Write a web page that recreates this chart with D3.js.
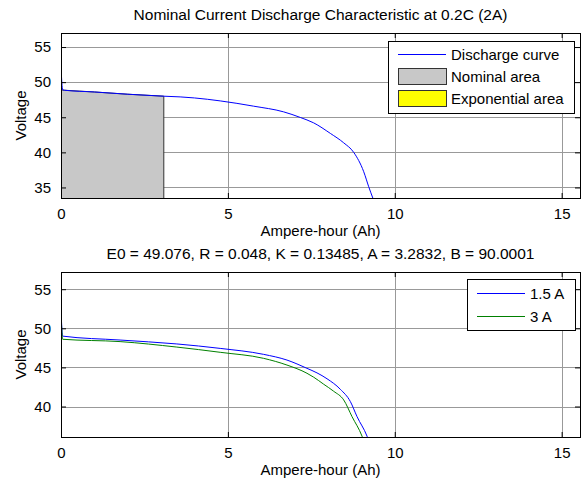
<!DOCTYPE html>
<html>
<head>
<meta charset="utf-8">
<script src="https://cdn.jsdelivr.net/npm/d3@7"></script>
<style>
  body { margin: 0; background: #fff; }
  svg { display: block; font-family: "Liberation Sans", Arial, sans-serif; }
</style>
</head>
<body>
<div id="chart"></div>
<script>
// values
var xTicks = [0, 5, 10, 15];
var topYTicks = [35, 40, 45, 50, 55];
var bottomYTicks = [40, 45, 50, 55];

// top panel: discharge curve at 0.2C (2A)
var dischargeAh = [0, 0.05, 0.1, 1, 2, 3.08, 3.57, 4, 4.77, 5.77, 6.67, 7.17, 7.57, 8.07, 8.47, 8.77, 9.07, 9.22, 9.35];
var dischargeV  = [52.2, 48.9, 48.85, 48.6, 48.28, 48.0, 47.9, 47.75, 47.33, 46.58, 45.77, 44.97, 44.2, 42.7, 41.36, 40.0, 37.24, 35.1, 33.4];

// nominal area patch (under the curve up to Qnom)
var nominalAh = [0, 0.1, 1, 2, 3.08];
var nominalV  = [48.9, 48.85, 48.6, 48.28, 48.0];

// bottom panel: 1.5 A and 3 A curves
var curve15Ah = [0, 0.05, 1.77, 3.47, 4.77, 6.07, 6.77, 7.37, 7.67, 7.97, 8.37, 8.67, 8.87, 9.17, 9.24];
var curve15V  = [52.3, 49.0, 48.5, 48.0, 47.43, 46.67, 45.94, 44.88, 44.3, 43.55, 42.2, 40.63, 38.7, 36.2, 35.4];
var curve3Ah  = [0, 0.05, 1.77, 3.47, 4.77, 6.07, 6.77, 7.37, 7.57, 7.87, 8.17, 8.47, 8.72, 9.02, 9.09];
var curve3V   = [52.0, 48.6, 48.3, 47.6, 46.93, 46.16, 45.3, 44.25, 43.75, 42.85, 41.95, 40.84, 38.7, 36.2, 35.4];

var svg = d3.select("#chart").append("svg")
    .attr("width", 587)
    .attr("height", 484);

var fontSize = 15;

function zip(xs, ys) {
  return xs.map(function(x, i) { return {ah: x, v: ys[i]}; });
}

function drawPanel(opts) {
  var g = svg.append("g").attr("transform", "translate(" + opts.left + "," + opts.top + ")");
  var w = opts.width, h = opts.height;

  var x = d3.scaleLinear().domain([0, 15.55]).range([0, w]);
  var y = d3.scaleLinear().domain(opts.yDomain).range([h, 0]);

  g.append("rect").attr("width", w).attr("height", h).attr("fill", "#fff");

  var clipId = "clip" + opts.id;
  g.append("clipPath").attr("id", clipId)
    .append("rect").attr("width", w).attr("height", h);

  // grid
  g.append("g").selectAll("line").data(opts.yTicks).join("line")
    .attr("x1", 0).attr("x2", w)
    .attr("y1", function(d) { return Math.round(y(d)) + 0.5; })
    .attr("y2", function(d) { return Math.round(y(d)) + 0.5; })
    .attr("stroke", "#999").attr("stroke-width", 1);
  g.append("g").selectAll("line").data(xTicks).join("line")
    .attr("y1", 0).attr("y2", h)
    .attr("x1", function(d) { return Math.round(x(d)) + 0.5; })
    .attr("x2", function(d) { return Math.round(x(d)) + 0.5; })
    .attr("stroke", "#999").attr("stroke-width", 1);

  var plot = g.append("g").attr("clip-path", "url(#" + clipId + ")");

  var line = d3.line()
    .curve(d3.curveMonotoneX)
    .x(function(d) { return x(d.ah); })
    .y(function(d) { return y(d.v); });

  if (opts.area) {
    var pts = zip(opts.area.ah, opts.area.v);
    var area = d3.area()
      .x(function(d) { return x(d.ah); })
      .y0(h + 2)
      .y1(function(d) { return y(d.v); });
    plot.append("path").datum(pts)
      .attr("d", area)
      .attr("fill", "#c8c8c8")
      .attr("stroke", "#333")
      .attr("stroke-width", 1);
  }

  opts.series.forEach(function(s) {
    plot.append("path").datum(zip(s.ah, s.v))
      .attr("d", line)
      .attr("fill", "none")
      .attr("stroke", s.color)
      .attr("stroke-width", 1);
  });

  // axes, MATLAB style: ticks inside on all four sides
  var tickLen = 5;
  var xAxisB = d3.axisBottom(x).tickValues(xTicks).tickSize(-tickLen).tickPadding(10).tickFormat(d3.format("d"));
  var xAxisT = d3.axisTop(x).tickValues(xTicks).tickSize(-tickLen).tickFormat("");
  var yAxisL = d3.axisLeft(y).tickValues(opts.yTicks).tickSize(-tickLen).tickPadding(10).tickFormat(d3.format("d"));
  var yAxisR = d3.axisRight(y).tickValues(opts.yTicks).tickSize(-tickLen).tickFormat("");

  function style(sel) {
    sel.select(".domain").remove();
    sel.selectAll("line").attr("stroke", "#000");
    sel.selectAll("text").attr("fill", "#000").attr("font-size", fontSize).attr("font-family", null);
  }
  g.append("g").attr("transform", "translate(0," + h + ")").call(xAxisB).call(style);
  g.append("g").call(xAxisT).call(style);
  g.append("g").call(yAxisL).call(style);
  g.append("g").attr("transform", "translate(" + w + ",0)").call(yAxisR).call(style);

  g.append("rect").attr("x", 0.5).attr("y", 0.5).attr("width", w).attr("height", h)
    .attr("fill", "none").attr("stroke", "#000").attr("stroke-width", 1);

  // labels
  g.append("text").attr("x", w / 2).attr("y", -opts.top + opts.titleY)
    .attr("text-anchor", "middle").attr("font-size", 15.5).text(opts.title);
  g.append("text").attr("x", w / 2).attr("y", h + 38)
    .attr("text-anchor", "middle").attr("font-size", fontSize).text("Ampere-hour (Ah)");
  g.append("text")
    .attr("transform", "translate(" + (26 - opts.left) + "," + (h / 2) + ") rotate(-90)")
    .attr("text-anchor", "middle").attr("font-size", fontSize).text("Voltage");

  // legend
  var lg = opts.legend;
  var leg = g.append("g").attr("transform", "translate(" + (lg.x - opts.left) + "," + (lg.y - opts.top) + ")");
  leg.append("rect").attr("x", 0.5).attr("y", 0.5).attr("width", lg.w).attr("height", lg.h)
    .attr("fill", "#fff").attr("stroke", "#000").attr("stroke-width", 1);
  lg.items.forEach(function(it, i) {
    var cy = lg.firstY - lg.y + i * lg.step;
    if (it.type === "line") {
      leg.append("line").attr("x1", 10).attr("x2", 58).attr("y1", cy + 0.5).attr("y2", cy + 0.5)
        .attr("stroke", it.color).attr("stroke-width", 1);
    } else {
      leg.append("rect").attr("x", 10.5).attr("y", cy - 7.5).attr("width", 48).attr("height", 16)
        .attr("fill", it.color).attr("stroke", "#333").attr("stroke-width", 1);
    }
    leg.append("text").attr("x", 63).attr("y", cy + 6)
      .attr("font-size", fontSize).text(it.label);
  });
}

drawPanel({
  id: "top", left: 61, top: 33, width: 519, height: 165,
  yDomain: [33.5, 57], yTicks: topYTicks,
  title: "Nominal Current Discharge Characteristic at 0.2C (2A)", titleY: 20,
  area: {ah: nominalAh, v: nominalV},
  series: [{ah: dischargeAh, v: dischargeV, color: "#0000ff"}],
  legend: {x: 388, y: 41, w: 186, h: 72, firstY: 54, step: 22, items: [
    {type: "line", color: "#0000ff", label: "Discharge curve"},
    {type: "patch", color: "#c8c8c8", label: "Nominal area"},
    {type: "patch", color: "#ffff00", label: "Exponential area"}
  ]}
});

drawPanel({
  id: "bottom", left: 61, top: 272, width: 519, height: 165,
  yDomain: [36.1, 57.2], yTicks: bottomYTicks,
  title: "E0 = 49.076, R = 0.048, K = 0.13485, A = 3.2832, B = 90.0001", titleY: 259,
  series: [
    {ah: curve15Ah, v: curve15V, color: "#0000ff"},
    {ah: curve3Ah, v: curve3V, color: "#008000"}
  ],
  legend: {x: 467, y: 279, w: 108, h: 51, firstY: 293, step: 23, items: [
    {type: "line", color: "#0000ff", label: "1.5 A"},
    {type: "line", color: "#008000", label: "3 A"}
  ]}
});
</script>
</body>
</html>
